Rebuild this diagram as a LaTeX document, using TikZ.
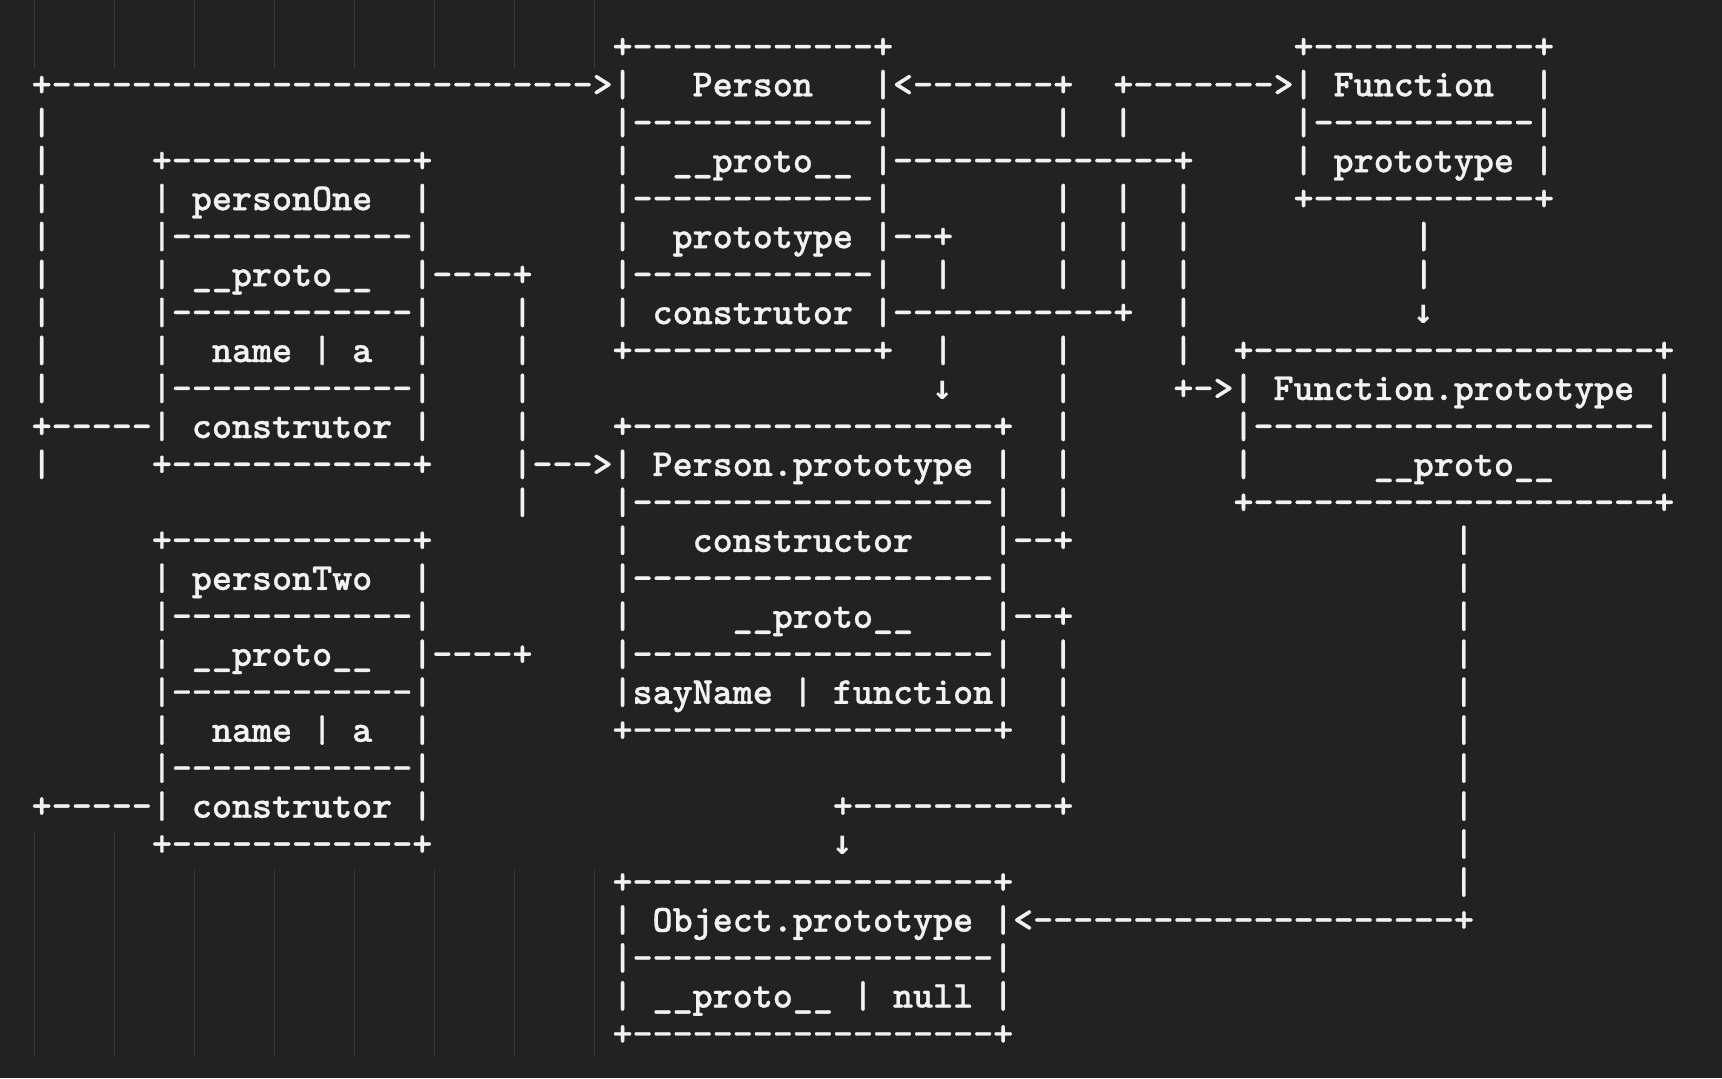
\documentclass[tikz,border=0pt]{standalone}
\usepackage{fontspec}
\newfontfamily\asciifont{lmmonolt10-bold.otf}[FakeBold=0.8]
\newfontfamily\arrowfont{DejaVu Sans Mono Bold}
\usepackage{xcolor}
\definecolor{termbg}{HTML}{222222}
\definecolor{termfg}{HTML}{F2F2F2}
\definecolor{guide}{HTML}{505050}

\newcommand{\dashrun}[1]{\foreach \n in {1,...,#1}{-}}
\newcommand{\asciibox}[4]{%
  \foreach \boxline [count=\k from 0] in {#4}
    {\node[txt] (#1-\k) at ({cx(#2)},{ry(#3+\k)}) {\boxline};}%
}

\begin{document}
\begin{tikzpicture}[x=0.5pt, y=0.5pt,
    declare function={cx(\c)=31.685+20.03*\c; ry(\r)=-(58.3+37.97*\r);},
    txt/.style={anchor=base west, inner sep=0pt, outer sep=0pt, text=termfg,
        font=\asciifont\fontsize{19.08}{21}\selectfont},
    downtxt/.style={anchor=center, inner sep=0pt, outer sep=0pt, text=termfg,
        font=\arrowfont\fontsize{17}{19}\selectfont},
    guideline/.style={draw=guide, line width=0.5pt, dash pattern=on 0.5pt off 0.5pt}]
    \fill[termbg] (0,0) rectangle (1722,-1078);
    \useasboundingbox (0,0) rectangle (1722,-1078);

    \foreach \g in {0,...,7}
        \draw[guideline] ({34.8+80*\g},0) -- ({34.8+80*\g},-67);
    \foreach \g in {0,1}
        \draw[guideline] ({34.8+80*\g},-832) -- ({34.8+80*\g},-1055);
    \foreach \g in {2,...,7}
        \draw[guideline] ({34.8+80*\g},-870) -- ({34.8+80*\g},-1055);

    \asciibox{person}{29}{0}{+\dashrun{12}+, |~~~Person~~~|, |\dashrun{12}|,
        |~~\_\_proto\_\_~|, |\dashrun{12}|, |~~prototype~|, |\dashrun{12}|,
        |~construtor~|, +\dashrun{12}+}
    \asciibox{func}{63}{0}{+\dashrun{11}+, |~Function~~|, |\dashrun{11}|,
        |~prototype~|, +\dashrun{11}+}
    \asciibox{personOne}{6}{3}{+\dashrun{12}+, |~personOne~~|, |\dashrun{12}|,
        |~\_\_proto\_\_~~|, |\dashrun{12}|, |~~name~|~a~~|, |\dashrun{12}|,
        |~construtor~|, +\dashrun{12}+}
    \asciibox{personTwo}{6}{13}{+\dashrun{12}+, |~personTwo~~|, |\dashrun{12}|,
        |~\_\_proto\_\_~~|, |\dashrun{12}|, |~~name~|~a~~|, |\dashrun{12}|,
        |~construtor~|, +\dashrun{12}+}
    \asciibox{funcProto}{60}{8}{+\dashrun{20}+, |~Function.prototype~|,
        |\dashrun{20}|, |~~~~~~\_\_proto\_\_~~~~~|, +\dashrun{20}+}
    \asciibox{personProto}{29}{10}{+\dashrun{18}+, |~Person.prototype~|,
        |\dashrun{18}|, |~~~constructor~~~~|, |\dashrun{18}|,
        |~~~~~\_\_proto\_\_~~~~|, |\dashrun{18}|, |sayName~|~function|,
        +\dashrun{18}+}
    \asciibox{objProto}{29}{22}{+\dashrun{18}+, |~Object.prototype~|,
        |\dashrun{18}|, |~\_\_proto\_\_~|~null~|, +\dashrun{18}+}

    \node[txt] (toPerson) at ({cx(0)},{ry(1)}) {+\dashrun{27}>};
    \node[txt] (ctorBack) at ({cx(43)},{ry(1)}) {<\dashrun{7}+};
    \node[txt] (toFunc) at ({cx(54)},{ry(1)}) {+\dashrun{7}>};
    \node[txt] (personProtoOut) at ({cx(43)},{ry(3)}) {\dashrun{14}+};
    \node[txt] (prototypeOut) at ({cx(43)},{ry(5)}) {\dashrun{2}+};
    \node[txt] (construtorOut) at ({cx(43)},{ry(7)}) {\dashrun{11}+};
    \node[txt] (oneProtoOut) at ({cx(20)},{ry(6)}) {\dashrun{4}+};
    \node[txt] (twoProtoOut) at ({cx(20)},{ry(16)}) {\dashrun{4}+};
    \node[txt] (oneCtorOut) at ({cx(0)},{ry(10)}) {+\dashrun{5}};
    \node[txt] (twoCtorOut) at ({cx(0)},{ry(20)}) {+\dashrun{5}};
    \node[txt] (toPersonProto) at ({cx(24)},{ry(11)}) {|\dashrun{3}>};
    \node[txt] (toFuncProto) at ({cx(57)},{ry(9)}) {+->};
    \node[txt] (ctorOut) at ({cx(49)},{ry(13)}) {\dashrun{2}+};
    \node[txt] (ppProtoOut) at ({cx(49)},{ry(15)}) {\dashrun{2}+};
    \node[txt] (toObjTop) at ({cx(40)},{ry(20)}) {+\dashrun{10}+};
    \node[txt] (toObj) at ({cx(49)},{ry(23)}) {<\dashrun{21}+};

    \foreach \c/\rs in {0/{2,...,9,11,...,19}, 24/{7,...,10,12,...,15},
        45/{6,8}, 51/{2,4,5,6,8,9,10,11,12,16,17,18,19}, 54/{2,4,5,6},
        57/{4,...,8}, 69/{5,6}, 71/{13,...,22}}
        \foreach \r in \rs
            {\node[txt] (bar-\c-\r) at ({cx(\c)},{ry(\r)}) {|};}
    \foreach \c/\r in {45/9, 69/7, 40/21}
        \node[downtxt] (down-\c) at ({cx(\c)+10.015},{ry(\r)+10}) {↓};
\end{tikzpicture}
\end{document}
